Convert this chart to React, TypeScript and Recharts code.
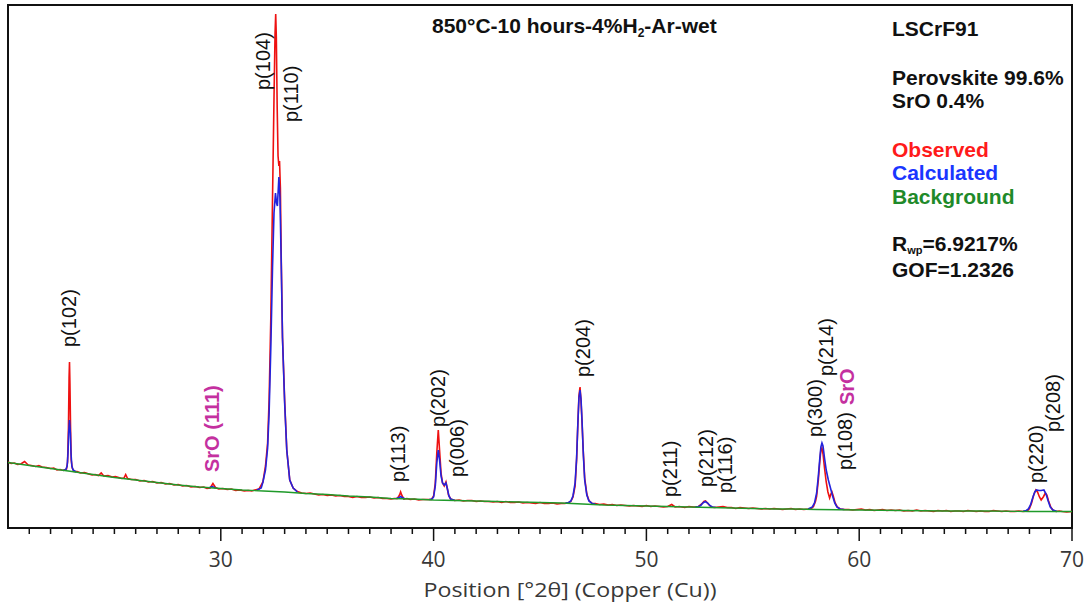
import { LineChart, Line, XAxis, YAxis, ReferenceDot, ReferenceArea } from 'recharts';

type Pt = [number, number];

// 2θ (deg) vs intensity (a.u.)
const background: Pt[] = [
  [20, 65.5], [21, 62.5], [22, 59.5], [23, 56.5], [24, 53.5], [25, 50.5], [26, 48], [27, 45.5],
  [28, 43], [29, 41], [30, 39.5], [31, 38], [32, 37], [33, 36], [34, 34.5], [35, 33.5], [36, 32],
  [37, 31], [38, 29.5], [39, 29], [40, 28], [41, 27.5], [42, 27], [43, 26.5], [44, 26], [45, 25.5],
  [46, 25], [47, 24], [48, 23], [49, 22.5], [50, 22], [51, 21.5], [52, 21], [53, 20.5], [54, 20],
  [55, 19.5], [56, 19], [57, 19], [58, 18.5], [60, 18], [62, 17.5], [64, 17], [66, 17], [68, 16.5],
  [70, 16.5],
];

const observed: Pt[] = [
  [20.0, 66], [20.15, 64.5], [20.3, 65], [20.45, 63.5], [20.6, 64], [20.78, 66.5], [20.95, 63],
  [21.1, 62.5], [21.3, 61.5], [21.45, 62.5], [21.6, 61], [21.8, 60.5], [22.0, 59.5], [22.15, 60],
  [22.3, 58], [22.45, 58.5], [22.6, 57.5],
  [22.75, 59], [22.8, 66], [22.84, 100], [22.87, 150], [22.89, 166], [22.91, 145], [22.94, 100],
  [22.97, 68], [23.02, 60], [23.1, 56.5],
  [23.25, 56.5], [23.4, 55], [23.6, 55.5], [23.8, 54], [23.95, 53], [24.1, 53.5], [24.25, 52.5],
  [24.38, 55], [24.5, 52], [24.7, 52.5], [24.9, 51], [25.05, 51.5], [25.2, 50.5], [25.35, 49.5],
  [25.45, 50], [25.53, 53.5], [25.62, 49.5], [25.8, 48.5], [26.0, 48.5], [26.2, 47], [26.4, 47.5],
  [26.6, 46], [26.8, 46.5], [27.0, 45], [27.2, 45.5], [27.4, 44], [27.6, 44.5], [27.8, 43],
  [28.0, 43.5], [28.2, 42], [28.4, 42.5], [28.6, 41], [28.8, 41.5], [29.0, 40.5], [29.2, 41],
  [29.35, 39.5], [29.5, 40], [29.63, 44.5], [29.75, 40.5], [29.9, 39], [30.1, 39.5], [30.3, 38.5],
  [30.5, 39], [30.7, 37.5], [30.9, 38], [31.1, 37], [31.3, 37.5], [31.45, 37], [31.6, 38],
  [31.8, 39], [31.98, 46], [32.1, 62], [32.2, 85], [32.27, 128], [32.35, 210], [32.43, 328],
  [32.5, 430], [32.55, 495], [32.58, 514], [32.61, 490], [32.65, 420], [32.69, 372], [32.73, 362],
  [32.76, 367], [32.8, 340], [32.84, 270], [32.9, 190], [33.0, 128], [33.1, 78], [33.24, 48],
  [33.4, 40], [33.6, 36.5],
  [33.8, 35], [34.0, 34.5], [34.2, 35], [34.4, 34], [34.6, 33], [34.8, 33.5], [35.0, 32.5],
  [35.2, 33], [35.4, 32], [35.6, 32.5], [35.8, 31.5], [36.0, 31.5], [36.2, 30.5], [36.4, 31.5],
  [36.6, 30.5], [36.8, 30.5], [37.0, 31], [37.2, 30], [37.4, 30.5], [37.6, 29.5], [37.8, 29.5],
  [38.0, 29], [38.15, 29.5], [38.3, 29.5], [38.4, 33], [38.45, 36], [38.5, 33], [38.6, 29],
  [38.75, 29.5], [38.9, 28.5], [39.1, 29], [39.3, 28], [39.5, 28.5], [39.7, 28.5], [39.9, 28.5],
  [40.0, 32], [40.08, 45], [40.15, 75], [40.22, 98], [40.28, 78], [40.35, 55], [40.42, 45],
  [40.5, 42], [40.58, 46], [40.64, 40], [40.7, 33], [40.8, 29], [41.0, 27.5],
  [41.2, 28], [41.4, 27], [41.6, 27.5], [41.8, 27.5], [42.0, 26.5], [42.2, 27], [42.4, 26.5],
  [42.6, 26.5], [42.8, 26], [43.0, 26.5], [43.2, 25.5], [43.4, 26.5], [43.6, 25.5], [43.8, 25.5],
  [44.0, 26], [44.2, 25], [44.4, 25.5], [44.6, 25], [44.8, 24.5], [45.0, 25.5], [45.2, 24.5],
  [45.4, 24.5], [45.6, 25], [45.8, 24], [46.0, 24.5], [46.15, 24.5],
  [46.3, 25], [46.45, 26.5], [46.55, 31], [46.65, 42], [46.72, 68], [46.78, 105], [46.83, 132],
  [46.88, 141], [46.92, 130], [46.97, 108], [47.03, 78], [47.1, 50], [47.2, 34], [47.3, 27.5],
  [47.45, 24.5],
  [47.6, 24.5], [47.8, 23.5], [48.0, 24], [48.2, 23], [48.4, 23.5], [48.6, 22.5], [48.8, 23],
  [49.0, 22.5], [49.2, 22], [49.4, 22.5], [49.6, 22], [49.8, 21.5], [50.0, 22.5], [50.2, 21.5],
  [50.4, 22], [50.6, 21.5], [50.8, 21], [51.0, 21.5], [51.19, 23.5], [51.35, 21], [51.55, 21.5],
  [51.8, 20.5], [52.0, 21.5], [52.2, 21], [52.35, 21],
  [52.45, 21.5], [52.6, 24], [52.7, 26.5], [52.78, 27], [52.85, 25.5], [52.95, 23], [53.05, 21],
  [53.2, 20.5], [53.4, 21], [53.6, 21.5], [53.8, 20.5], [54.0, 20.5], [54.2, 19.5], [54.4, 20.5],
  [54.6, 20], [54.8, 19.5], [55.0, 20], [55.2, 19.5], [55.4, 19], [55.6, 19.5], [55.8, 19],
  [56.0, 19.5], [56.2, 19], [56.4, 18.5], [56.6, 19], [56.8, 19.5], [57.0, 18.5], [57.2, 19],
  [57.4, 18.5], [57.6, 19], [57.75, 19.5], [57.85, 21.5], [57.95, 27],
  [58.0, 32], [58.08, 48], [58.15, 67], [58.2, 78], [58.25, 80], [58.3, 74], [58.37, 60],
  [58.45, 46], [58.53, 36], [58.61, 30], [58.67, 34], [58.72, 36], [58.78, 32], [58.87, 25],
  [58.97, 21], [59.1, 19], [59.3, 18.5],
  [59.5, 18.5], [59.7, 18], [59.9, 18.5], [60.1, 19], [60.3, 18], [60.5, 18.5], [60.7, 17.5],
  [60.9, 18], [61.1, 18.5], [61.3, 17.5], [61.5, 18], [61.7, 17.5], [61.9, 18], [62.1, 17],
  [62.3, 17.5], [62.5, 17], [62.7, 18], [62.9, 17], [63.1, 17.5], [63.3, 17], [63.5, 16.5],
  [63.7, 17.5], [63.9, 17], [64.1, 17.5], [64.3, 16.5], [64.5, 17], [64.7, 17], [64.9, 16.5],
  [65.1, 17.5], [65.3, 17], [65.5, 16.5], [65.7, 17], [65.9, 16.5], [66.1, 16.5], [66.3, 17.5],
  [66.5, 17], [66.7, 16.5], [66.9, 17], [67.1, 16.5], [67.3, 16.5], [67.5, 17], [67.7, 16.5],
  [67.9, 17],
  [68.0, 19.5], [68.1, 25], [68.2, 33], [68.3, 38], [68.38, 36], [68.47, 31], [68.55, 28],
  [68.65, 31], [68.75, 35], [68.82, 33], [68.9, 27], [69.0, 21], [69.1, 18], [69.25, 16.5],
  [69.4, 17], [69.55, 16.5], [69.75, 16], [70.0, 16.5],
];

// refined profile, one stretch per reflection group
const calcP102: Pt[] = [
  [22.6, 57.5], [22.72, 58.5], [22.78, 62], [22.82, 75], [22.85, 95], [22.89, 108], [22.93, 95],
  [22.96, 75], [23.0, 62], [23.06, 58], [23.2, 56],
];
const calcSrO111: Pt[] = [[29.45, 40.2], [29.6, 41.5], [29.75, 40]];
const calcP104: Pt[] = [
  [31.7, 38], [31.9, 40], [31.98, 46], [32.1, 58], [32.2, 80], [32.27, 115], [32.35, 180],
  [32.43, 260], [32.5, 315], [32.57, 335], [32.62, 325], [32.66, 322], [32.73, 351], [32.78, 330],
  [32.84, 265], [32.9, 190], [33.0, 125], [33.1, 78], [33.24, 48], [33.4, 40], [33.6, 36],
];
const calcP113: Pt[] = [[38.25, 29.5], [38.38, 30.5], [38.45, 31.5], [38.52, 30.5], [38.65, 29.2]];
const calcP202: Pt[] = [
  [39.8, 28.5], [39.92, 29], [40.0, 31], [40.08, 42], [40.15, 65], [40.22, 78], [40.28, 68],
  [40.35, 52], [40.42, 45], [40.5, 43], [40.58, 45], [40.65, 39], [40.72, 32], [40.8, 29],
  [41.0, 27.5],
];
const calcP204: Pt[] = [
  [46.2, 25], [46.35, 25.5], [46.45, 27], [46.55, 32], [46.65, 45], [46.72, 70], [46.78, 105],
  [46.83, 130], [46.88, 138], [46.93, 128], [46.98, 105], [47.04, 72], [47.1, 48], [47.2, 33],
  [47.3, 27], [47.45, 24.5], [47.6, 24],
];
const calcP212: Pt[] = [
  [52.3, 21], [52.45, 21.5], [52.55, 22.5], [52.65, 25], [52.76, 26.5], [52.88, 25], [52.98, 22.5],
  [53.1, 21], [53.25, 20.7],
];
const calcP300: Pt[] = [
  [57.6, 19], [57.8, 21], [57.9, 25], [58.0, 35], [58.08, 52], [58.15, 70], [58.2, 81], [58.25, 85],
  [58.3, 82], [58.37, 70], [58.45, 58], [58.55, 48], [58.65, 40], [58.75, 32], [58.85, 25],
  [58.95, 21], [59.1, 19], [59.3, 18.5],
];
const calcP220: Pt[] = [
  [67.7, 16.8], [67.85, 17.5], [67.95, 19], [68.05, 23], [68.15, 30], [68.25, 36], [68.33, 38],
  [68.45, 37.5], [68.55, 37.5], [68.68, 38], [68.78, 34], [68.88, 27], [68.98, 21], [69.1, 18],
  [69.3, 16.5],
];
const calculated = [calcP102, calcSrO111, calcP104, calcP113, calcP202, calcP204, calcP212, calcP300, calcP220];

const xTicks = [
  21, 22, 23, 24, 25, 26, 27, 28, 29, 30, 31, 32, 33, 34, 35, 36, 37, 38, 39, 40, 41, 42, 43, 44, 45,
  46, 47, 48, 49, 50, 51, 52, 53, 54, 55, 56, 57, 58, 59, 60, 61, 62, 63, 64, 65, 66, 67, 68, 69, 70,
];

// reflection labels, anchored at the foot of the (rotated) text
const peakLabels = [
  { text: 'p(102)', t: 22.89, i: 181 },
  { text: 'SrO (111)', t: 29.57, i: 56, srO: true },
  { text: 'p(104)', t: 31.98, i: 438 },
  { text: 'p(110)', t: 33.32, i: 406 },
  { text: 'p(113)', t: 38.34, i: 46 },
  { text: 'p(202)', t: 40.22, i: 101 },
  { text: 'p(006)', t: 41.08, i: 51 },
  { text: 'p(204)', t: 47.04, i: 151 },
  { text: 'p(211)', t: 51.11, i: 31 },
  { text: 'p(212)', t: 52.81, i: 41 },
  { text: 'p(116)', t: 53.7, i: 35 },
  { text: 'p(300)', t: 57.94, i: 91 },
  { text: 'p(214)', t: 58.45, i: 152 },
  { text: 'p(108)', t: 59.35, i: 58 },
  { text: 'SrO', t: 59.44, i: 123, srO: true },
  { text: 'p(220)', t: 68.29, i: 45 },
  { text: 'p(208)', t: 69.13, i: 96 },
];

const Y_MAX = 523;

const RED = '#ee1111';
const BLUE = '#2323dd';
const GREEN = '#1f9a2a';
const MAGENTA = '#c4309f';
const AXIS_TEXT = '#383838';
const BOLD_FONT = '"Liberation Sans", Arial, sans-serif';

const rows = (pts: Pt[]) => pts.map(([t, i]) => ({ t, i }));

function AxisTick(props: any) {
  const { x, y, payload } = props;
  const major = payload.value % 10 === 0;
  return (
    <g>
      <line x1={x} x2={x} y1={y} y2={y + (major ? 13 : 6)} stroke="#111" strokeWidth={1.5} />
      {major && (
        <text x={x} y={y + 39} textAnchor="middle" fill={AXIS_TEXT} fontSize={21} fontFamily='"Open Sans", sans-serif'>
          {payload.value}
        </text>
      )}
    </g>
  );
}

function PeakLabel({ cx, cy, text, srO }: { cx: number; cy: number; text: string; srO?: boolean }) {
  return (
    <text
      x={cx}
      y={cy}
      transform={`rotate(-90 ${cx} ${cy})`}
      dominantBaseline="central"
      fontSize={20}
      fontWeight={srO ? 700 : 400}
      fill={srO ? MAGENTA : '#111'}
      fontFamily={BOLD_FONT}
    >
      {text}
    </text>
  );
}

export default function App() {
  return (
    <div style={{ position: 'absolute', left: 0, top: 0, width: 1089, height: 606, background: '#fff' }}>
      <LineChart width={1089} height={606} margin={{ top: 5, right: 17, bottom: 0, left: 8 }}>
        <XAxis
          dataKey="t"
          type="number"
          domain={[20, 70]}
          allowDataOverflow
          ticks={xTicks}
          interval={0}
          height={78}
          tickSize={0}
          tickMargin={0}
          tickLine={false}
          tick={(p: any) => <AxisTick {...p} />}
          axisLine={{ stroke: '#111', strokeWidth: 2 }}
        />
        <YAxis type="number" domain={[0, Y_MAX]} allowDataOverflow hide />
        {/* plot frame */}
        <ReferenceArea
          x1={20}
          x2={70}
          y1={0}
          y2={Y_MAX}
          fill="none"
          stroke="#111"
          strokeWidth={2}
          ifOverflow="visible"
        />
        <Line
          data={rows(observed)}
          dataKey="i"
          type="linear"
          stroke={RED}
          strokeWidth={1.6}
          dot={false}
          activeDot={false}
          isAnimationActive={false}
        />
        {calculated.map((seg, k) => (
          <Line
            key={k}
            data={rows(seg)}
            dataKey="i"
            type="linear"
            stroke={BLUE}
            strokeWidth={1.6}
            dot={false}
            activeDot={false}
            isAnimationActive={false}
          />
        ))}
        <Line
          data={rows(background)}
          dataKey="i"
          type="linear"
          stroke={GREEN}
          strokeWidth={1.3}
          dot={false}
          activeDot={false}
          isAnimationActive={false}
        />
        {peakLabels.map((p) => (
          <ReferenceDot
            key={p.text + p.t}
            x={p.t}
            y={p.i}
            r={0}
            ifOverflow="visible"
            shape={(s: any) => <PeakLabel cx={s.cx} cy={s.cy} text={p.text} srO={p.srO} />}
          />
        ))}
      </LineChart>
      <svg
        width={1089}
        height={606}
        style={{ position: 'absolute', left: 0, top: 0, pointerEvents: 'none' }}
      >
        <g fontFamily={BOLD_FONT} fontWeight={700} fontSize={21} fill="#111">
          <text x={432} y={33}>
            850°C-10 hours-4%H<tspan fontSize={12} dy={4}>2</tspan>
            <tspan dy={-4}>-Ar-wet</tspan>
          </text>
          <text x={892} y={36}>LSCrF91</text>
          <text x={892} y={85}>Perovskite 99.6%</text>
          <text x={892} y={108}>SrO 0.4%</text>
          <text x={892} y={157} fill="#ff1a1a">Observed</text>
          <text x={892} y={180} fill="#1a36ff">Calculated</text>
          <text x={892} y={204} fill="#1f8a2a">Background</text>
          <text x={892} y={251}>
            R<tspan fontSize={11} dy={3}>wp</tspan>
            <tspan dy={-3}>=6.9217%</tspan>
          </text>
          <text x={892} y={277}>GOF=1.2326</text>
        </g>
        <text
          x={570}
          y={597}
          textAnchor="middle"
          fontSize={20}
          fill={AXIS_TEXT}
          fontFamily='"Open Sans", sans-serif'
          textLength={293}
          lengthAdjust="spacingAndGlyphs"
        >
          Position [°2θ] (Copper (Cu))
        </text>
      </svg>
    </div>
  );
}
